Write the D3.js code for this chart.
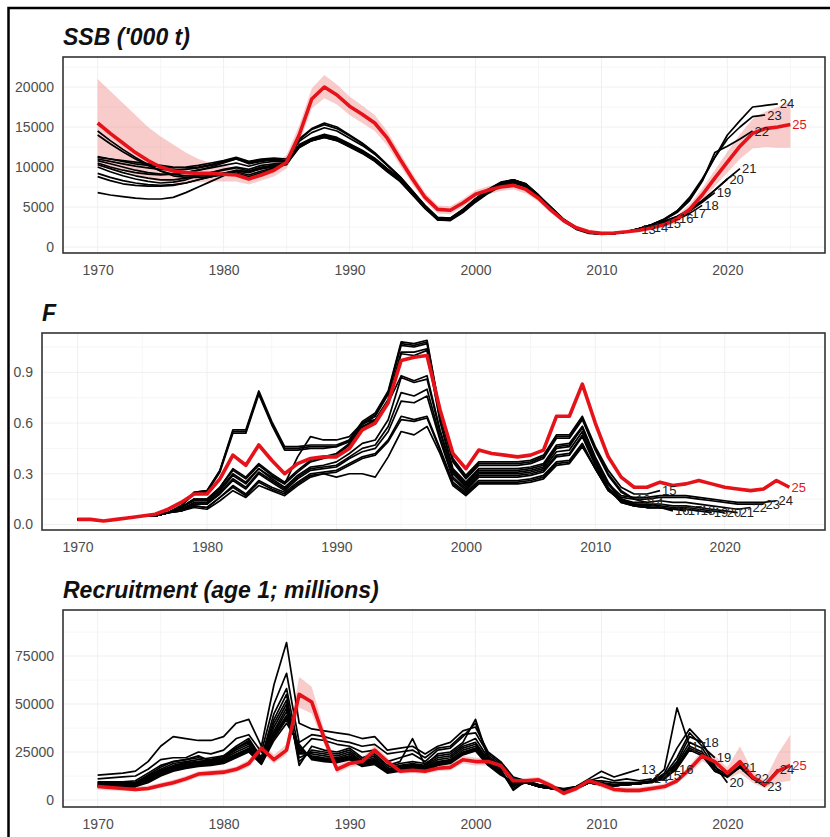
<!DOCTYPE html>
<html>
<head>
<meta charset="utf-8">
<script src="https://cdn.jsdelivr.net/npm/d3@7"></script>
<style>
  html, body { margin: 0; padding: 0; background: #fff; }
  svg { display: block; font-family: 'Liberation Sans', Arial, sans-serif; }
</style>
</head>
<body>
<svg id="chart" width="830" height="837"></svg>
<script>
// retrospective runs: black = peels ending 2013..2024, red = 2025 assessment
const years = d3.range(1970, 2026);
const peelYears = [2013, 2014, 2015, 2016, 2017, 2018, 2019, 2020, 2021, 2022, 2023, 2024];
const xTicks = [1970, 1980, 1990, 2000, 2010, 2020];

const ssbTicks = [0, 5000, 10000, 15000, 20000];
const fTicks = [0, 0.3, 0.6, 0.9];
const recTicks = [0, 25000, 50000, 75000];

const ssbMain = [15500, 14200, 13000, 11800, 10800, 10000, 9500, 9300, 9200, 9200,
  9100, 9000, 8500, 9000, 9600, 10600, 14000, 18500, 20000, 19000,
  17600, 16600, 15500, 13600, 11000, 8500, 6200, 4700, 4600, 5500,
  6600, 7100, 7500, 7700, 7200, 6100, 4600, 3300, 2400, 1900,
  1700, 1750, 1900, 2100, 2400, 2800, 3500, 4700, 6500, 8600,
  10600, 12600, 14200, 14800, 15000, 15300];
const ssbUpper = [21000, 19500, 18000, 16500, 15000, 13800, 12800, 11800, 11000, 10500,
  10200, 9900, 9300, 9800, 10400, 11500, 15200, 19800, 21500, 20300,
  18800, 17700, 16500, 14500, 11800, 9200, 6800, 5200, 5100, 6000,
  7100, 7600, 8000, 8200, 7700, 6500, 5000, 3600, 2700, 2100,
  1900, 1950, 2100, 2350, 2700, 3150, 3950, 5300, 7300, 9600,
  11900, 14100, 16000, 16900, 17500, 18200];
const ssbLower = [10500, 10000, 9600, 9000, 8500, 8200, 8000, 8000, 8100, 8200,
  8200, 8200, 7800, 8300, 8800, 9800, 12900, 17300, 18600, 17800,
  16500, 15500, 14500, 12700, 10200, 7800, 5700, 4200, 4100, 5000,
  6100, 6600, 7000, 7200, 6700, 5700, 4200, 3000, 2150, 1700,
  1500, 1550, 1700, 1850, 2100, 2450, 3050, 4100, 5700, 7600,
  9300, 11000, 12300, 12500, 12400, 12400];
const ssbPeels = [
  [6800, 6500, 6300, 6100, 6000, 6000, 6200, 6800, 7500, 8200, 8900, 9500, 9400, 9800, 10100, 10400,
   12400, 13300, 13700, 13300, 12500, 11700, 10700, 9400, 8200, 6500, 4800, 3400, 3300, 4300, 5600, 6700, 7600, 8000, 7500, 6200, 4700, 3200, 2200, 1700, 1600, 1700, 1900, 2200],
  [8800, 8300, 7900, 7700, 7600, 7600, 7700, 8000, 8400, 8800, 9200, 9500, 9300, 9800, 10000, 10300,
   12500, 13300, 13800, 13400, 12600, 11800, 10800, 9500, 8300, 6600, 4900, 3500, 3400, 4400, 5700, 6800, 7700, 8100, 7600, 6300, 4800, 3300, 2300, 1800, 1600, 1700, 1900, 2200, 2500],
  [10000, 9400, 8900, 8500, 8200, 8000, 8100, 8400, 8900, 9300, 9600, 9900, 9500, 10000, 10200, 10500,
   12600, 13400, 13900, 13500, 12700, 11900, 10900, 9600, 8400, 6700, 5000, 3500, 3500, 4500, 5800, 6900, 7800, 8200, 7700, 6300, 4800, 3300, 2300, 1800, 1600, 1700, 1900, 2200, 2600, 3000],
  [11200, 11000, 10800, 10600, 10400, 10200, 10000, 9900, 10000, 10300, 10700, 11000, 10600, 10900, 11000, 10700,
   12700, 13500, 14000, 13600, 12800, 12000, 11000, 9700, 8500, 6800, 5000, 3600, 3500, 4600, 5900, 7000, 7900, 8300, 7800, 6400, 4900, 3400, 2400, 1800, 1700, 1700, 1900, 2300, 2700, 3100, 3600],
  [11000, 10700, 10400, 10100, 9900, 9700, 9600, 9700, 9900, 10200, 10600, 11100, 10500, 10800, 11000, 10800,
   12600, 13400, 13800, 13400, 12700, 11900, 10900, 9600, 8400, 6700, 4900, 3500, 3500, 4600, 5900, 7000, 7900, 8300, 7700, 6300, 4800, 3300, 2300, 1800, 1600, 1700, 1900, 2200, 2600, 3000, 3500, 4200],
  [10800, 10400, 10000, 9600, 9300, 9100, 9100, 9300, 9600, 10000, 10500, 11000, 10400, 10700, 10900, 10600,
   12500, 13300, 13700, 13300, 12600, 11800, 10800, 9500, 8300, 6600, 4900, 3400, 3400, 4500, 5800, 6900, 7800, 8200, 7700, 6300, 4800, 3300, 2300, 1800, 1600, 1700, 1900, 2200, 2600, 3000, 3500, 4200, 5200],
  [10300, 9800, 9300, 8900, 8600, 8400, 8400, 8600, 8900, 9300, 9700, 10000, 9700, 10200, 10400, 10500,
   12700, 13500, 13900, 13500, 12800, 12000, 11000, 9700, 8500, 6800, 5000, 3500, 3500, 4600, 5900, 7000, 7900, 8300, 7800, 6400, 4900, 3400, 2400, 1800, 1700, 1700, 1900, 2200, 2600, 3100, 3700, 4500, 5600, 6800],
  [9200, 8700, 8300, 8000, 7800, 7700, 7800, 8000, 8400, 8800, 9200, 9600, 9400, 9900, 10200, 10400,
   12800, 13600, 14100, 13700, 12900, 12100, 11100, 9800, 8600, 6900, 5100, 3600, 3600, 4700, 6000, 7100, 8000, 8400, 7900, 6500, 4900, 3400, 2400, 1900, 1700, 1700, 1900, 2300, 2700, 3200, 3800, 4700, 5800, 7100, 8500],
  [10500, 10000, 9600, 9300, 9100, 9000, 9100, 9300, 9600, 9900, 10200, 10500, 10100, 10500, 10700, 10600,
   12600, 13500, 14000, 13600, 12800, 12000, 11000, 9700, 8500, 6800, 5000, 3500, 3500, 4600, 5900, 7000, 7900, 8300, 7800, 6400, 4900, 3400, 2400, 1800, 1700, 1700, 1900, 2300, 2700, 3200, 3800, 4600, 5800, 7100, 8500, 9800],
  [11300, 11000, 10700, 10400, 10200, 10000, 9900, 10000, 10200, 10500, 10800, 11200, 10700, 11000, 11100, 11000,
   13200, 14300, 14900, 14500, 13600, 12700, 11600, 10200, 8800, 7000, 5200, 3700, 3600, 4700, 6000, 7200, 8000, 8400, 7900, 6500, 5000, 3500, 2400, 1900, 1700, 1700, 1900, 2300, 2800, 3400, 4300, 5800, 8200, 11800, 12600, 13500, 14500],
  [14000, 12900, 11900, 11000, 10200, 9500, 9100, 8900, 8900, 9000, 9200, 9400, 9000, 9500, 9900, 10600,
   13500, 14800, 15500, 15000, 14000, 13000, 11800, 10300, 8800, 7000, 5100, 3500, 3500, 4600, 6000, 7200, 8100, 8400, 7800, 6400, 4900, 3400, 2300, 1800, 1700, 1700, 1900, 2300, 2800, 3500, 4500, 6200, 8500, 11200, 13500, 15000, 16300, 16500],
  [14500, 13300, 12200, 11200, 10300, 9500, 8900, 8700, 8700, 8800, 9000, 9200, 8800, 9300, 9800, 10600,
   13400, 14700, 15300, 14800, 13900, 12900, 11700, 10200, 8700, 6900, 5000, 3400, 3400, 4500, 5900, 7100, 8000, 8400, 7800, 6400, 4900, 3400, 2300, 1800, 1700, 1700, 1900, 2300, 2800, 3500, 4500, 6000, 8300, 11200, 14000, 15800, 17500, 17700, 17900]
];

const fMain = [0.03, 0.03, 0.02, 0.03, 0.04, 0.05, 0.06, 0.09, 0.13, 0.18,
  0.18, 0.27, 0.41, 0.35, 0.47, 0.38, 0.30, 0.36, 0.39, 0.40,
  0.40, 0.45, 0.56, 0.60, 0.72, 0.97, 0.99, 1.00, 0.68, 0.42,
  0.33, 0.44, 0.42, 0.41, 0.40, 0.41, 0.44, 0.64, 0.64, 0.83,
  0.60, 0.40, 0.28, 0.22, 0.22, 0.25, 0.23, 0.24, 0.26, 0.24,
  0.22, 0.21, 0.20, 0.21, 0.26, 0.22];
const fPeels = [
  [0.03, 0.03, 0.02, 0.03, 0.04, 0.05, 0.05, 0.07, 0.11, 0.19, 0.20, 0.32, 0.55, 0.55, 0.78, 0.60, 0.45, 0.45, 0.46, 0.46,
   0.46, 0.50, 0.60, 0.65, 0.78, 1.07, 1.06, 1.08, 0.66, 0.38, 0.28, 0.36, 0.36, 0.36, 0.36, 0.37, 0.40, 0.52, 0.52, 0.63,
   0.45, 0.30, 0.20, 0.15],
  [0.03, 0.03, 0.02, 0.03, 0.04, 0.05, 0.05, 0.07, 0.11, 0.18, 0.19, 0.31, 0.54, 0.54, 0.77, 0.59, 0.44, 0.44, 0.45, 0.45,
   0.46, 0.49, 0.59, 0.64, 0.77, 1.06, 1.05, 1.07, 0.65, 0.37, 0.27, 0.35, 0.35, 0.35, 0.35, 0.36, 0.39, 0.51, 0.51, 0.62,
   0.44, 0.29, 0.19, 0.15, 0.13],
  [0.03, 0.03, 0.02, 0.03, 0.04, 0.05, 0.05, 0.07, 0.11, 0.19, 0.20, 0.32, 0.56, 0.56, 0.79, 0.61, 0.46, 0.46, 0.47, 0.47,
   0.47, 0.50, 0.61, 0.66, 0.79, 1.08, 1.07, 1.09, 0.67, 0.39, 0.29, 0.37, 0.37, 0.37, 0.37, 0.38, 0.41, 0.53, 0.53, 0.64,
   0.46, 0.32, 0.22, 0.18, 0.18, 0.20],
  [0.03, 0.03, 0.02, 0.03, 0.04, 0.05, 0.05, 0.07, 0.10, 0.15, 0.15, 0.22, 0.33, 0.28, 0.36, 0.30, 0.25, 0.32, 0.38, 0.40,
   0.42, 0.48, 0.58, 0.62, 0.74, 1.02, 1.02, 1.04, 0.62, 0.33, 0.25, 0.33, 0.33, 0.33, 0.33, 0.34, 0.36, 0.47, 0.48, 0.58,
   0.40, 0.25, 0.15, 0.12, 0.11, 0.10, 0.08],
  [0.03, 0.03, 0.02, 0.03, 0.04, 0.05, 0.05, 0.07, 0.10, 0.15, 0.15, 0.22, 0.32, 0.27, 0.35, 0.29, 0.24, 0.31, 0.37, 0.39,
   0.41, 0.47, 0.57, 0.61, 0.73, 1.01, 1.00, 1.03, 0.61, 0.32, 0.24, 0.32, 0.32, 0.32, 0.32, 0.33, 0.35, 0.46, 0.47, 0.57,
   0.39, 0.24, 0.14, 0.11, 0.10, 0.10, 0.09, 0.08],
  [0.03, 0.03, 0.02, 0.03, 0.04, 0.05, 0.05, 0.07, 0.09, 0.13, 0.13, 0.20, 0.29, 0.24, 0.33, 0.27, 0.22, 0.29, 0.34, 0.35,
   0.37, 0.42, 0.48, 0.50, 0.62, 0.87, 0.84, 0.86, 0.55, 0.30, 0.22, 0.30, 0.30, 0.30, 0.30, 0.31, 0.33, 0.43, 0.44, 0.55,
   0.37, 0.22, 0.13, 0.11, 0.10, 0.10, 0.09, 0.09, 0.08],
  [0.03, 0.03, 0.02, 0.03, 0.04, 0.05, 0.05, 0.07, 0.09, 0.12, 0.12, 0.19, 0.27, 0.22, 0.31, 0.26, 0.21, 0.28, 0.33, 0.34,
   0.35, 0.40, 0.45, 0.47, 0.58, 0.78, 0.76, 0.80, 0.52, 0.28, 0.21, 0.29, 0.29, 0.29, 0.29, 0.30, 0.32, 0.41, 0.42, 0.53,
   0.36, 0.21, 0.13, 0.11, 0.10, 0.10, 0.09, 0.09, 0.08, 0.07],
  [0.03, 0.03, 0.02, 0.03, 0.04, 0.05, 0.05, 0.07, 0.09, 0.12, 0.12, 0.18, 0.26, 0.21, 0.30, 0.25, 0.20, 0.27, 0.32, 0.33,
   0.34, 0.39, 0.43, 0.45, 0.55, 0.73, 0.72, 0.76, 0.50, 0.27, 0.20, 0.28, 0.28, 0.28, 0.28, 0.29, 0.31, 0.40, 0.41, 0.52,
   0.35, 0.21, 0.14, 0.12, 0.11, 0.11, 0.10, 0.10, 0.09, 0.08, 0.07],
  [0.03, 0.03, 0.02, 0.03, 0.04, 0.05, 0.05, 0.07, 0.08, 0.11, 0.10, 0.16, 0.23, 0.18, 0.26, 0.22, 0.19, 0.25, 0.30, 0.31,
   0.32, 0.36, 0.40, 0.42, 0.50, 0.64, 0.62, 0.64, 0.45, 0.25, 0.19, 0.26, 0.26, 0.26, 0.26, 0.27, 0.29, 0.37, 0.38, 0.48,
   0.33, 0.20, 0.14, 0.12, 0.12, 0.12, 0.11, 0.11, 0.10, 0.09, 0.08, 0.07],
  [0.03, 0.03, 0.02, 0.03, 0.04, 0.05, 0.05, 0.07, 0.08, 0.11, 0.10, 0.16, 0.22, 0.17, 0.25, 0.21, 0.18, 0.24, 0.29, 0.30,
   0.31, 0.35, 0.39, 0.41, 0.49, 0.62, 0.61, 0.63, 0.44, 0.24, 0.18, 0.25, 0.25, 0.25, 0.25, 0.26, 0.28, 0.36, 0.37, 0.47,
   0.33, 0.20, 0.15, 0.13, 0.13, 0.14, 0.13, 0.13, 0.12, 0.11, 0.10, 0.09, 0.10],
  [0.03, 0.03, 0.02, 0.03, 0.04, 0.05, 0.05, 0.07, 0.08, 0.10, 0.09, 0.14, 0.20, 0.16, 0.23, 0.20, 0.17, 0.23, 0.28, 0.30,
   0.28, 0.30, 0.30, 0.28, 0.40, 0.55, 0.53, 0.58, 0.42, 0.23, 0.17, 0.24, 0.24, 0.24, 0.24, 0.25, 0.27, 0.35, 0.36, 0.46,
   0.33, 0.21, 0.16, 0.15, 0.15, 0.16, 0.16, 0.16, 0.15, 0.14, 0.13, 0.12, 0.12, 0.12],
  [0.03, 0.03, 0.02, 0.03, 0.04, 0.05, 0.05, 0.07, 0.10, 0.14, 0.14, 0.21, 0.30, 0.25, 0.33, 0.28, 0.24, 0.40, 0.52, 0.50,
   0.50, 0.52, 0.60, 0.62, 0.72, 0.88, 0.85, 0.88, 0.56, 0.31, 0.23, 0.31, 0.31, 0.31, 0.31, 0.32, 0.34, 0.45, 0.46, 0.58,
   0.38, 0.24, 0.17, 0.16, 0.16, 0.17, 0.17, 0.17, 0.16, 0.15, 0.14, 0.13, 0.13, 0.13, 0.14]
];

const recMain = [7000, 6500, 6000, 5500, 6000, 7500, 9000, 11000, 13500, 14000,
  14500, 16000, 19000, 27000, 21000, 26000, 55000, 51000, 32000, 16000,
  19000, 20000, 26000, 20000, 15000, 15500, 15000, 16500, 17000, 21000,
  20000, 20000, 18000, 10000, 10000, 10500, 7500, 3500, 6000, 10000,
  8000, 5500, 5000, 5000, 6000, 7000, 10000, 16000, 23000, 20000,
  14000, 20000, 12000, 8000, 15000, 18000];
const recUpper = [8500, 8000, 7500, 7000, 7500, 9000, 10500, 12500, 15000, 15500,
  16000, 17500, 21000, 30000, 23500, 29000, 64000, 59000, 36000, 18000,
  21000, 22000, 28500, 22000, 16500, 17000, 16500, 18000, 18500, 23000,
  22000, 22000, 20000, 11500, 11500, 12000, 9000, 5000, 7500, 11500,
  9500, 7000, 6500, 6500, 7500, 8500, 11500, 18000, 26000, 23000,
  17000, 28000, 15000, 10500, 24000, 34000];
const recLower = [5500, 5000, 4800, 4300, 4800, 6200, 7500, 9500, 12000, 12500,
  13000, 14500, 17000, 24500, 19000, 23500, 48000, 45000, 28500, 14000,
  17000, 18000, 23500, 18000, 13500, 14000, 13500, 15000, 15500, 19000,
  18000, 18000, 16000, 8500, 8500, 9000, 6000, 2200, 4500, 8500,
  6500, 4000, 3600, 3600, 4500, 5500, 8500, 14000, 20000, 17000,
  11000, 14000, 9000, 6000, 9000, 10000];
const recPeels = [
  [13000, 13500, 14000, 15000, 20000, 28000, 33000, 32000, 31000, 31000, 33000, 40000, 42000, 28000, 60000, 82000, 40000, 37000, 36000, 35000,
   34000, 32000, 33000, 26000, 27000, 28000, 24000, 28000, 30000, 36000, 38000, 25000, 20000, 12000, 10000, 8000, 7000, 6000, 7000, 11000,
   15000, 12000, 14000, 16000],
  [11000, 11500, 12000, 12500, 16000, 21000, 22000, 22000, 25000, 24000, 26000, 32000, 34000, 25000, 50000, 66000, 30000, 34000, 33000, 31000,
   30000, 28000, 29000, 24000, 25000, 26000, 22000, 27000, 28000, 34000, 35000, 24000, 19000, 11000, 10000, 8000, 7000, 5500, 7000, 10000,
   12000, 10000, 11000, 10000, 11000],
  [9500, 9500, 9500, 10000, 14000, 18000, 20000, 21000, 22000, 21000, 23000, 28000, 32000, 22000, 45000, 58000, 25000, 32000, 31000, 29000,
   28000, 25000, 26000, 20000, 22000, 24000, 20000, 26000, 27000, 33000, 40000, 23000, 18000, 10000, 9500, 8000, 6500, 5000, 7000, 10000,
   10000, 9000, 9000, 9000, 10000, 13000],
  [9000, 9000, 9000, 9000, 13000, 17000, 20000, 21000, 23000, 20000, 22000, 27000, 31000, 22000, 42000, 55000, 18000, 28000, 26000, 25000,
   27000, 22000, 24000, 18000, 20000, 32000, 18000, 24000, 25000, 30000, 42000, 22000, 17000, 9000, 9000, 7000, 6000, 4500, 6500, 9500,
   9000, 8000, 8500, 8500, 9000, 12000, 16000],
  [9000, 8500, 8500, 9000, 12500, 16000, 19000, 20000, 21000, 22000, 23000, 27000, 30000, 21000, 40000, 52000, 20000, 26000, 25000, 24000,
   26000, 21000, 23000, 17000, 19000, 20000, 19000, 23000, 24000, 29000, 32000, 22000, 16000, 5000, 10000, 7000, 6000, 5000, 6000, 9000,
   8500, 8000, 8500, 9000, 10000, 16000, 48000, 28000],
  [8500, 8500, 8000, 8500, 12000, 15500, 18000, 19500, 20000, 21000, 22000, 26000, 29000, 21000, 38000, 50000, 22000, 25000, 24000, 23000,
   25000, 20000, 22000, 16000, 18000, 19000, 18000, 22000, 23000, 28000, 30000, 21000, 15000, 6000, 9500, 7000, 6000, 5000, 6000, 9000,
   8000, 7500, 8000, 8500, 9500, 14000, 27000, 37000, 30000],
  [8000, 8000, 8000, 8500, 11500, 15000, 17500, 19000, 20000, 20500, 21500, 25000, 28000, 21000, 36000, 48000, 24000, 24000, 23000, 22000,
   24000, 20000, 21000, 16000, 17500, 18500, 17500, 21000, 22000, 27000, 29000, 20000, 15000, 7000, 9000, 7000, 6000, 5000, 6000, 9000,
   8000, 7500, 8000, 8500, 9500, 13000, 22000, 35000, 28000, 22000],
  [8000, 7500, 7500, 8000, 11000, 14500, 17000, 18500, 19500, 20000, 21000, 24000, 27000, 20000, 35000, 46000, 25000, 23000, 22000, 21500,
   23000, 19500, 20500, 15500, 17000, 18000, 17000, 20000, 21000, 26000, 28000, 20000, 14500, 7500, 9000, 7000, 6000, 5000, 6000, 9000,
   8000, 7500, 8000, 8500, 9500, 12500, 20000, 33000, 30000, 18000, 9000],
  [7500, 7500, 7500, 7500, 10500, 14000, 16500, 18000, 19000, 19500, 20500, 23500, 26500, 20000, 34000, 44000, 26000, 22500, 21500, 21000,
   22500, 19000, 20000, 15000, 16500, 17500, 16500, 19500, 20500, 25000, 27000, 19500, 14000, 8000, 9000, 7000, 6000, 5000, 6000, 9000,
   8000, 7500, 8000, 8500, 9500, 12000, 19000, 30000, 27000, 17000, 13000, 17000],
  [7500, 7000, 7000, 7500, 10000, 13500, 16000, 17500, 18500, 19000, 20000, 23000, 26000, 19500, 33000, 43000, 27000, 22000, 21000, 20500,
   22000, 18500, 19500, 15000, 16000, 17000, 16000, 19000, 20000, 24500, 26500, 19000, 14000, 8500, 9000, 7000, 6000, 5000, 6000, 9000,
   8000, 7500, 8000, 8500, 9500, 11500, 18000, 28000, 25000, 16000, 12000, 18000, 11000],
  [7000, 7000, 7000, 7000, 9500, 13000, 15500, 17000, 18000, 18500, 19500, 22500, 25500, 19000, 32000, 42000, 28000, 21500, 20500, 20000,
   21500, 18000, 19000, 14500, 15500, 16500, 15500, 18500, 19500, 24000, 26000, 18500, 13500, 9000, 9000, 7000, 6000, 5000, 6000, 9000,
   8000, 7500, 8000, 8500, 9500, 11000, 17000, 27000, 24000, 15000, 12000, 17000, 11000, 7000],
  [7000, 7000, 6500, 7000, 9000, 12500, 15000, 16500, 17500, 18000, 19000, 22000, 25000, 18500, 31000, 40000, 29000, 21000, 20000, 19500,
   21000, 17500, 18500, 14000, 15000, 16000, 15000, 18000, 19000, 23500, 25500, 18000, 13000, 9500, 9000, 7000, 6000, 5000, 6000, 9000,
   8000, 7500, 8000, 8500, 9500, 11000, 16500, 26000, 23000, 15000, 12500, 17000, 11500, 8000, 16000]
];

const svg = d3.select('#chart');
svg.append('rect').attr('width', 830).attr('height', 837).attr('fill', '#fff');

function drawPanel(p) {
  const x = d3.scaleLinear().domain([1967.25, 2027.75]).range([p.left, 825]);
  const y = d3.scaleLinear().domain(p.yDomain).range([p.bottom, p.top]);
  const g = svg.append('g');

  // grid (major + minor)
  const xMinor = xTicks.map(d => d + 5);
  const yStep = p.ticks[1] - p.ticks[0];
  const yMinor = p.ticks.map(d => d + yStep / 2).filter(d => y(d) > p.top);
  g.selectAll('.gx').data(xTicks.concat(xMinor)).enter().append('line')
    .attr('x1', d => x(d)).attr('x2', d => x(d))
    .attr('y1', p.top).attr('y2', p.bottom)
    .attr('stroke', (d, i) => i < xTicks.length ? '#ececec' : '#f4f4f4').attr('stroke-width', 0.8);
  g.selectAll('.gy').data(p.ticks.concat(yMinor)).enter().append('line')
    .attr('x1', p.left).attr('x2', 825)
    .attr('y1', d => y(d)).attr('y2', d => y(d))
    .attr('stroke', (d, i) => i < p.ticks.length ? '#ececec' : '#f4f4f4').attr('stroke-width', 0.8);

  // confidence band of the latest run
  if (p.upper) {
    const area = d3.area()
      .x((d, i) => x(years[i]))
      .y0((d, i) => y(p.lower[i]))
      .y1(d => y(d));
    g.append('path').datum(p.upper).attr('d', area)
      .attr('fill', '#f08080').attr('opacity', 0.4);
  }

  const line = d3.line().x((d, i) => x(years[i])).y(d => y(d));

  g.selectAll('.peel').data(p.peels).enter().append('path')
    .attr('d', line).attr('fill', 'none')
    .attr('stroke', '#000').attr('stroke-width', 1.7).attr('stroke-linejoin', 'round');

  g.append('path').datum(p.main).attr('d', line).attr('fill', 'none')
    .attr('stroke', '#e5121a').attr('stroke-width', 3.6).attr('stroke-linejoin', 'round');

  // end-of-run labels
  g.selectAll('.lab').data(p.peels).enter().append('text')
    .attr('x', d => x(1970 + d.length - 1) + 2)
    .attr('y', d => y(d[d.length - 1]))
    .attr('dy', '0.35em')
    .style('font-size', '13px').style('fill', '#222')
    .text((d, i) => String(peelYears[i] % 100));
  g.append('text')
    .attr('x', x(2025) + 2).attr('y', y(p.main[p.main.length - 1]))
    .attr('dy', '0.35em')
    .style('font-size', '13px').style('fill', '#e5121a')
    .text('25');

  // axes
  const ya = g.append('g').attr('transform', `translate(${p.left},0)`)
    .call(d3.axisLeft(y).tickValues(p.ticks).tickFormat(p.fmt).tickSize(0).tickPadding(9));
  ya.select('.domain').remove();
  const xa = g.append('g').attr('transform', `translate(0,${p.bottom})`)
    .call(d3.axisBottom(x).tickValues(xTicks).tickFormat(d3.format('d')).tickSize(0).tickPadding(12));
  xa.select('.domain').remove();
  g.selectAll('.tick text')
    .style('font-family', "'Liberation Sans', Arial, sans-serif")
    .style('font-size', '14px').style('fill', '#4d4d4d');

  g.append('rect')
    .attr('x', p.left).attr('y', p.top)
    .attr('width', 825 - p.left).attr('height', p.bottom - p.top)
    .attr('fill', 'none').attr('stroke', '#333').attr('stroke-width', 1.6);

  g.append('text')
    .attr('x', p.left).attr('y', p.top - 12)
    .style('font-size', '23px').style('font-weight', 'bold').style('font-style', 'italic')
    .style('fill', '#111')
    .text(p.title);
}

drawPanel({ title: "SSB ('000 t)", left: 63, top: 57, bottom: 253, yDomain: [-750, 23750],
  ticks: ssbTicks, fmt: d3.format('d'), main: ssbMain, upper: ssbUpper, lower: ssbLower, peels: ssbPeels });
drawPanel({ title: 'F', left: 42, top: 333, bottom: 530, yDomain: [-0.033, 1.133],
  ticks: fTicks, fmt: d3.format('.1f'), main: fMain, peels: fPeels });
drawPanel({ title: 'Recruitment (age 1; millions)', left: 63, top: 610, bottom: 807, yDomain: [-3650, 98950],
  ticks: recTicks, fmt: d3.format('d'), main: recMain, upper: recUpper, lower: recLower, peels: recPeels });

// outer frame of the figure
svg.append('rect').attr('x', 8.5).attr('y', 8).attr('width', 840).attr('height', 840)
  .attr('fill', 'none').attr('stroke', '#000').attr('stroke-width', 2.5);
</script>
</body>
</html>
